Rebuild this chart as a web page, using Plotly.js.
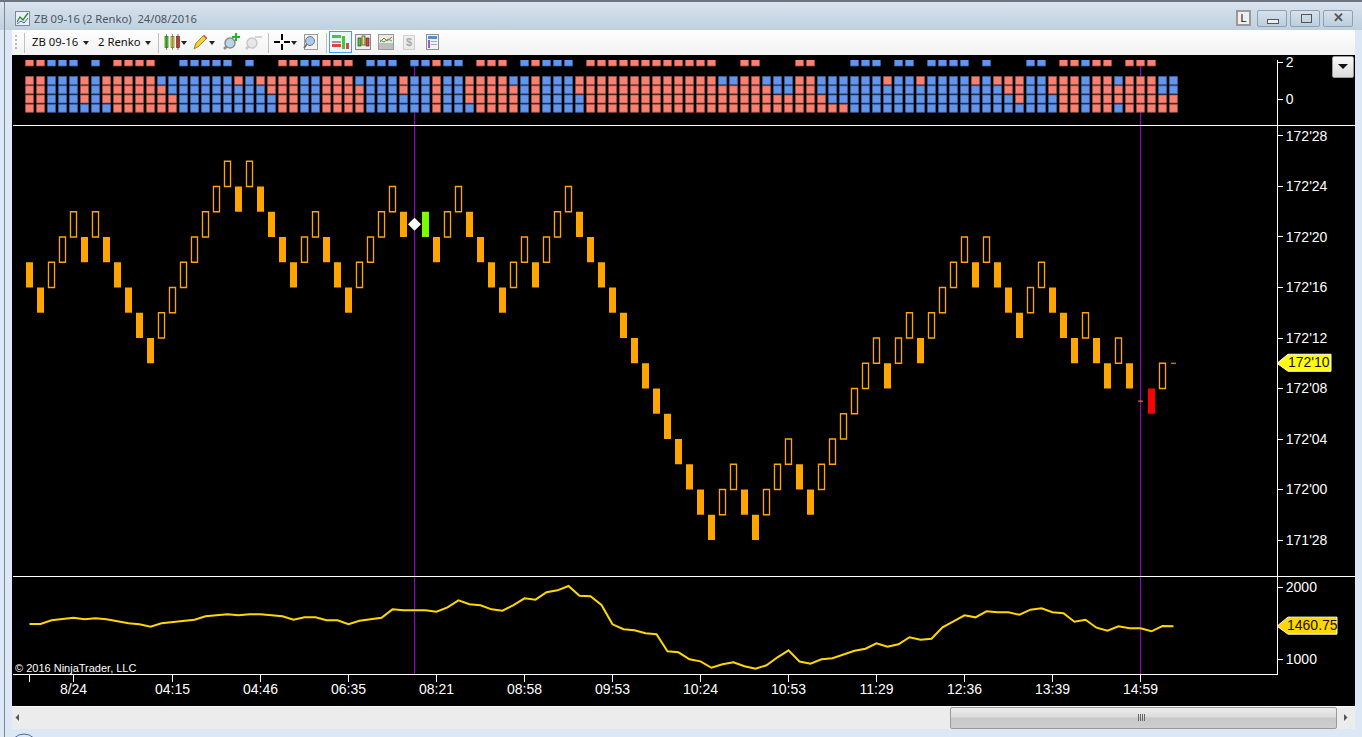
<!DOCTYPE html>
<html>
<head>
<meta charset="utf-8">
<script src="https://cdn.plot.ly/plotly-3.0.1.min.js"></script>
<style>
html,body{margin:0;padding:0;width:1362px;height:737px;overflow:hidden;background:#dce8f5;font-family:"Liberation Sans",Arial,sans-serif}
.abs{position:absolute}
#title{left:0;top:0;width:1362px;height:30px;background:linear-gradient(#d9e4ee,#bed0df);border-top:2px solid #6d7480;box-sizing:border-box}
#frameL{left:4px;top:2px;width:1px;height:735px;background:#7d8792}
#toolbar{left:12px;top:30px;width:1343px;height:25px;background:linear-gradient(#fff,#f1f1f1)}
#black{left:12px;top:55px;width:1343px;height:651px;background:#000}
#scroll{left:12px;top:706px;width:1343px;height:23px;background:#ececec;border-top:1px solid #fafafa;box-sizing:border-box}
#thumb{left:950px;top:707px;width:387px;height:22px;box-sizing:border-box;border:1px solid #9a9a9a;border-radius:2px;background:linear-gradient(#ececec 0,#dcdcdc 45%,#c8c8c8 50%,#cdcdcd 100%)}
#chart{left:0;top:0;width:1362px;height:737px}
.wbtn{top:10px;height:17px;box-sizing:border-box;border:1px solid #8fa0b2;border-radius:2px;background:linear-gradient(#d6e1eb,#bccede)}
.tb{font-size:11.3px;color:#111;top:35px;line-height:14px;white-space:nowrap;font-family:"Noto Sans",sans-serif}
.tri{width:0;height:0;border-left:3.5px solid transparent;border-right:3.5px solid transparent;border-top:4px solid #222;top:41px}
.sep{width:1px;height:20px;top:33px;background:#bfbfbf}
</style>
</head>
<body>
<div class="abs" id="title"></div>
<div class="abs" id="frameL"></div>
<div class="abs" id="toolbar"></div>
<div class="abs" id="black"></div>
<div class="abs" id="scroll"></div>
<div class="abs" id="thumb"></div>
<svg class="abs" style="left:0;top:0" width="1362" height="737">
  <g>
    <rect x="15.5" y="11.5" width="14" height="14" fill="#e9eff5" stroke="#7f8a96"/>
    <polyline points="17,22 20,17 23,20 28,13" fill="none" stroke="#2c8a2c" stroke-width="1.3"/>
    <polyline points="17,24 21,21 24,23 28,18" fill="none" stroke="#3a62c0" stroke-width="1"/>
  </g>
  <!-- grip -->
  <g fill="#b9b9b9"><rect x="15" y="35" width="2" height="2"/><rect x="15" y="39" width="2" height="2"/><rect x="15" y="43" width="2" height="2"/><rect x="15" y="47" width="2" height="2"/></g>
  <!-- candles icon -->
  <g>
    <rect x="165" y="36.500" width="3" height="11" fill="#63d13a" stroke="#2b6b22" stroke-width=".7"/><line x1="166.500" y1="34" x2="166.500" y2="50" stroke="#2b6b22" stroke-width=".7"/>
    <rect x="171" y="36.500" width="3" height="11" fill="#e8e05a" stroke="#6b6b22" stroke-width=".7"/><line x1="172.500" y1="34" x2="172.500" y2="50" stroke="#6b6b22" stroke-width=".7"/>
    <rect x="176.500" y="36.500" width="3" height="11" fill="#e04a3a" stroke="#6b2b22" stroke-width=".7"/><line x1="178" y1="34" x2="178" y2="50" stroke="#6b2b22" stroke-width=".7"/>
  </g>
  <!-- pencil -->
  <polygon points="194,49 196,43 204,35 207,38 199,46" fill="#f2d23a" stroke="#a58a1e"/>
  <polygon points="204,35 207,38 206,39 203,36" fill="#e35a4a"/>
  <!-- zoom in -->
  <g>
    <line x1="224" y1="49" x2="229" y2="44" stroke="#8a8a8a" stroke-width="2.500"/>
    <circle cx="230" cy="43" r="5" fill="#bcd4ea" stroke="#8a8a8a" stroke-width="1.500"/>
    <path d="M232 36h3v-3h2v3h3v2h-3v3h-2v-3h-3z" fill="#1fb81f"/>
  </g>
  <!-- zoom out -->
  <g opacity="0.6">
    <line x1="246" y1="49" x2="251" y2="44" stroke="#aaa" stroke-width="2.500"/>
    <circle cx="252" cy="43" r="5" fill="#ddd" stroke="#aaa" stroke-width="1.500"/>
    <rect x="255" y="36" width="7" height="2" fill="#bbb"/>
  </g>
  <!-- crosshair -->
  <g fill="#000"><rect x="274" y="41" width="6" height="2"/><rect x="284" y="41" width="6" height="2"/><rect x="281" y="34" width="2" height="6"/><rect x="281" y="44" width="2" height="6"/></g>
  <!-- magnifier box -->
  <g><rect x="304.500" y="34.500" width="13" height="15" fill="#f3f3f3" stroke="#9a9a9a"/><circle cx="310" cy="41" r="4.500" fill="#a9c9ea" stroke="#7a7a7a"/><line x1="307" y1="44" x2="304" y2="48" stroke="#777" stroke-width="2"/></g>
  <!-- active button -->
  <g>
    <rect x="329.500" y="31.500" width="22" height="21" fill="#eef6fd" stroke="#4a9bdd"/>
    <rect x="332" y="35" width="9" height="3" fill="#4ec23c"/><rect x="342" y="36" width="3" height="13" fill="#4ec23c"/>
    <rect x="332" y="41" width="9" height="2" fill="#999"/>
    <rect x="332" y="44" width="9" height="3" fill="#e0473a"/><rect x="346" y="43" width="3" height="6" fill="#e0473a"/>
  </g>
  <!-- candles box -->
  <g>
    <rect x="355.500" y="34.500" width="15" height="15" fill="#ededed" stroke="#8a8a8a"/>
    <rect x="358" y="38" width="3" height="8" fill="#52c73d" stroke="#222" stroke-width=".6"/>
    <rect x="362" y="36" width="3" height="9" fill="#e8e05a" stroke="#222" stroke-width=".6"/>
    <rect x="366" y="38" width="3" height="8" fill="#e0473a" stroke="#222" stroke-width=".6"/>
  </g>
  <!-- line chart box -->
  <g>
    <rect x="378.500" y="34.500" width="15" height="15" fill="#e4ece4" stroke="#9a9a9a"/>
    <rect x="379" y="43" width="14" height="6" fill="#bdbdbd"/>
    <polyline points="380,42 384,38 387,41 392,37" fill="none" stroke="#d9534a"/>
    <polyline points="380,40 384,42 388,39 392,41" fill="none" stroke="#4cae4c"/>
  </g>
  <!-- dollar doc -->
  <g opacity="0.6"><rect x="403.500" y="35.500" width="11" height="14" fill="#e6e6e6" stroke="#b5b5b5"/></g>
  <!-- table -->
  <g>
    <rect x="426.500" y="34.500" width="12" height="15" fill="#f0f0f6" stroke="#8f8f8f"/>
    <rect x="428" y="36" width="9" height="3" fill="#4a90d9"/><rect x="428" y="40" width="2" height="8" fill="#8a5fd0"/>
    <rect x="431" y="41" width="6" height="1" fill="#aaa"/><rect x="431" y="44" width="6" height="1" fill="#aaa"/>
  </g>
  <!-- scrollbar arrows and grip -->
  <polygon points="19,714 19,721 15.500,717.500" fill="#555"/>
  <polygon points="1344,714 1344,721 1347.500,717.500" fill="#555"/>
  <g fill="#666"><rect x="1138" y="714" width="1" height="7"/><rect x="1140" y="714" width="1" height="7"/><rect x="1142" y="714" width="1" height="7"/><rect x="1144" y="714" width="1" height="7"/></g>
  <circle cx="24" cy="748" r="14" fill="#dce8f5" stroke="#4a6a96"/>
</svg>
<div class="abs" style="left:34px;top:11px;font:11.2px 'Noto Sans',sans-serif;line-height:15px;color:#4a5660;white-space:pre">ZB 09-16 (2 Renko)  24/08/2016</div>
<div class="abs tb" style="left:32px">ZB 09-16</div>
<div class="abs tri" style="left:83px"></div>
<div class="abs tb" style="left:98px">2 Renko</div>
<div class="abs tri" style="left:145px"></div>
<div class="abs sep" style="left:24px"></div>
<div class="abs sep" style="left:158px"></div>
<div class="abs tri" style="left:181px"></div>
<div class="abs tri" style="left:209px"></div>
<div class="abs sep" style="left:268px"></div>
<div class="abs tri" style="left:291px"></div>
<div class="abs sep" style="left:326px"></div>
<div class="abs" style="left:406px;top:36px;font:bold 11px 'Liberation Sans';color:#aaa">$</div>

<div class="abs" id="chart"></div>

<!-- window buttons -->
<div class="abs" style="left:1236px;top:10px;width:15px;height:16px;box-sizing:border-box;border:2px solid #999;background:#efefef;font:11px 'Liberation Sans';text-align:center;line-height:12px;color:#111">L</div>
<div class="abs wbtn" style="left:1257px;width:30px"><div class="abs" style="left:9px;top:8px;width:10px;height:3px;border:1px solid #555;background:#eee"></div></div>
<div class="abs wbtn" style="left:1290px;width:30px"><div class="abs" style="left:10px;top:3px;width:9px;height:7px;border:1.5px solid #555"></div></div>
<div class="abs wbtn" style="left:1323px;width:30px;text-align:center;font:bold 13px 'Liberation Sans';line-height:14px;color:#555">✕</div>
<div class="abs" style="left:1332px;top:56px;width:22px;height:22px;box-sizing:border-box;border:1px solid #9a9a9a;border-radius:2px;background:linear-gradient(#f8f8f8,#dcdcdc)"><div class="abs" style="left:5px;top:7px;width:0;height:0;border-left:5px solid transparent;border-right:5px solid transparent;border-top:5px solid #111"></div></div>

<script>
// Chart data: bar index runs 0..104
const xTickVals  = [0, 4, 13, 21, 29, 37, 45, 53, 61, 69, 77, 85, 93, 101];
const xTickText  = ["", "8/24", "04:15", "04:46", "06:35", "08:21", "08:58", "09:53", "10:24", "10:53", "11:29", "12:36", "13:39", "14:59"];
const priceTickVals = [28, 24, 20, 16, 12, 8, 4, 0, -4];
const priceTickText = ["172'28", "172'24", "172'20", "172'16", "172'12", "172'08", "172'04", "172'00", "171'28"];

// Renko box lower edge, in 32nds above 172'00
const boxLow = [16,14,16,18,20,18,20,18,16,14,12,10,12,14,16,18,20,22,24,22,24,22,20,18,16,18,20,18,16,14,16,18,20,22,20,null,20,18,20,22,20,18,16,14,16,18,16,18,20,22,20,18,16,14,12,10,8,6,4,2,0,-2,-4,-2,0,-2,-4,-2,0,2,0,-2,0,2,4,6,8,10,8,10,12,10,12,14,16,18,16,18,16,14,12,14,16,14,12,10,12,10,8,10,8,null,6,8,null];
// D filled down, U hollow up, L lime, X red
const boxKind = ["D","D","U","U","U","D","U","D","D","D","D","D","U","U","U","U","U","U","U","D","U","D","D","D","D","U","U","D","D","D","U","U","U","U","D","-","L","D","U","U","D","D","D","D","U","U","D","U","U","U","D","D","D","D","D","D","D","D","D","D","D","D","D","U","U","D","D","U","U","U","D","D","U","U","U","U","U","U","D","U","U","D","U","U","U","U","D","U","D","D","D","U","U","D","D","D","U","D","D","U","D","-","X","U","-"];
const boxHeight = 2;
const dashIdx = [101, 104];
const dashVal = [7, 10];
const diamondIdx = [35];
const diamondVal = [21];
const lastPrice = 10;
const lastPriceText = "172'10";
const markerLines = [35, 101];

// Signal matrix rows, one letter per bar (R salmon, B blue, . none)
const signalLevels = [2, 1, 0.5, 0, -0.5];
const signalTop  = "RRBBB.B.RRRR..BBBBB.B..RRBBRRR.BBB.BBRBB.RRR.BRBBB.RRRRRRRRRRRR..RR...RR...BBB.BB.BBBB.B...BB.RRBRR.RRR..";
const signalOne  = "RRBBBRBRRRRRBBBBBBBRBRRRRBBRRRBBBBRBBRBBRRRRBBRBBBRRRRRRRRRRRRRBBRRBBBRRBBBBBBRBBRBBBBRBRRRBBRRRBRRBRRRBB";
const signalHalf = "RRBBBRBRRRRRRBBBBBBBBBRRRBBRRRRBBBRBBRBBRRRRRBRBBBRRRRRRRRRRRRRRRRRRBBRRBBBBBBBBBBBBBBBBBRRBBRRRBRRRRRRBB";
const signalZero = "RRBBBRBRRRRRRRBBBBBBBBBRRBBRRRRBBBBBBRBBRRRRRBRBBBBRRRRRRRRRRRRRRRRRRRRRRBBBBBBBBBBBBBBBBBRBBBRRBRRRRRRRR";
const signalLow  = "RRBBBBBBRRRRRRBBBBBBBBBRRBBRRRRBBBBBBRBBBRRRRBRBBBBRRRRRRRRRRRRRRRRRRRRRRRRBBBBBBBBBBBBBBBBBBBRRBRRBRRRRR";

// Lower panel line
const volumeLine = [1490,1490,1542,1556,1578,1556,1569,1556,1528,1500,1486,1453,1500,1514,1536,1550,1597,1611,1625,1611,1627,1627,1615,1597,1550,1583,1583,1542,1542,1486,1536,1553,1578,1694,1681,1681,1681,1661,1722,1819,1764,1750,1694,1675,1754,1847,1828,1931,1958,2018,1883,1875,1754,1486,1417,1403,1361,1347,1111,1097,1000,972,883,931,958,903,869,917,1028,1125,969,939,1000,1014,1064,1119,1147,1222,1175,1208,1306,1272,1286,1444,1528,1611,1583,1667,1653,1653,1619,1689,1708,1653,1639,1522,1550,1439,1397,1458,1431,1431,1389,1461,1460.75];
const lastVolume = 1460.75;
const lastVolumeText = "1460.75";
const volumeTickVals = [1000, 2000];
const signalTickVals = [0, 2];

const ORANGE = "#FFA500", SALMON = "#FA8072", BLUE = "#6495ED", GOLD = "#FFD700", PURPLE = "#9400D3";
const W = 1362, H = 737, mL = 13, mR = 85, mT = 60, mB = 63;
const plotH = H - mT - mB, plotW = W - mL - mR;
const py = px => (H - mB - px) / plotH;
const tickFont = {family: '"Liberation Sans", Arial, sans-serif', size: 14, color: "#fff"};

const idx = boxLow.map((_, i) => i);
const valid = idx.filter(i => boxLow[i] !== null);
const fillOf = {D: ORANGE, U: "rgba(0,0,0,0)", L: "#7CFC00", X: "#FF0000"};

const traces = [];
// signal squares
[signalTop, signalOne, signalHalf, signalZero, signalLow].forEach((row, r) => {
  [["R", SALMON, "#9a5148"], ["B", BLUE, "#3f619e"]].forEach(([k, col, edge]) => {
    const xs = [];
    row.split("").forEach((c, i) => { if (c === k) xs.push(i); });
    traces.push({type: "scatter", mode: "markers", xaxis: "x", yaxis: "y", x: xs, y: xs.map(() => signalLevels[r]),
      marker: {symbol: "square", size: 8, color: col, line: {color: edge, width: 0.8}}, hoverinfo: "skip"});
  });
});
// renko boxes
traces.push({type: "bar", xaxis: "x", yaxis: "y2", x: valid,
  base: valid.map(i => boxLow[i]), y: valid.map(() => boxHeight),
  width: valid.map(i => boxKind[i] === "U" ? 0.55 : 0.636),
  marker: {color: valid.map(i => fillOf[boxKind[i]]),
    line: {color: valid.map(i => boxKind[i] === "U" ? ORANGE : "rgba(0,0,0,0)"), width: valid.map(i => boxKind[i] === "U" ? 1.3 : 0)}},
  hoverinfo: "skip"});
traces.push({type: "scatter", mode: "markers", xaxis: "x", yaxis: "y2", x: dashIdx, y: dashVal,
  marker: {symbol: "line-ew", size: 3.5, line: {color: ORANGE, width: 1}}, hoverinfo: "skip"});
traces.push({type: "scatter", mode: "markers", xaxis: "x", yaxis: "y2", x: diamondIdx, y: diamondVal,
  marker: {symbol: "diamond", size: 10, color: "#fff"}, hoverinfo: "skip"});
// line
traces.push({type: "scatter", mode: "lines", xaxis: "x", yaxis: "y3", x: idx, y: volumeLine,
  line: {color: GOLD, width: 2}, hoverinfo: "skip"});

const yCommon = {anchor: "x", side: "right", showgrid: false, zeroline: false, showline: true, linecolor: "#fff", linewidth: 1,
  ticks: "outside", ticklen: 5, tickcolor: "#fff", tickwidth: 1, tickfont: tickFont};

const tag = (yref, yval, right, fill) => ({type: "path", xref: "paper", xsizemode: "pixel", xanchor: 1, yref, ysizemode: "pixel", yanchor: yval,
  path: `M0,0 L11,-8 L${right},-8 L${right},9 L11,9 Z`, fillcolor: fill, line: {color: "#fff", width: 1}, layer: "above"});
const tagText = (yref, yval, text, shift) => ({xref: "paper", x: 1, xanchor: "left", xshift: shift, yref, y: yval, yanchor: "middle", yshift: 1, text, showarrow: false,
  font: {family: tickFont.family, size: 14, color: "#111"}, borderpad: 0});

const layout = {
  width: W, height: H, margin: {l: mL, r: mR, t: mT, b: mB, pad: 0},
  paper_bgcolor: "rgba(0,0,0,0)", plot_bgcolor: "#000", showlegend: false, barmode: "overlay", bargap: 0,
  xaxis: {anchor: "y3", domain: [0, 1], range: [-1.5, 113.41], showgrid: false, zeroline: false, showline: true, linecolor: "#fff", linewidth: 1,
    tickmode: "array", tickvals: xTickVals, ticktext: xTickText, ticks: "outside", ticklen: 7, tickcolor: "#fff", tickwidth: 1, tickangle: 0, tickfont: tickFont, ticklabelstandoff: -5},
  yaxis: Object.assign({}, yCommon, {domain: [py(125.5), py(60)], range: [-1.432, 2.108], tickmode: "array", tickvals: signalTickVals, ticktext: signalTickVals.map(String)}),
  yaxis2: Object.assign({}, yCommon, {domain: [py(576.5), py(125.5)], range: [-6.89, 28.83], tickmode: "array", tickvals: priceTickVals, ticktext: priceTickText}),
  yaxis3: Object.assign({}, yCommon, {domain: [0, py(576.5)], range: [796, 2150], tickmode: "array", tickvals: volumeTickVals, ticktext: volumeTickVals.map(String)}),
  shapes: [
    ...markerLines.map(m => ({type: "line", xref: "x", yref: "paper", x0: m, x1: m, y0: 0, y1: 1, layer: "below", line: {color: PURPLE, width: 1}})),
    {type: "line", xref: "paper", yref: "paper", x0: 0, x1: (1355 - mL) / plotW, y0: py(125.5), y1: py(125.5), line: {color: "#fff", width: 1}},
    {type: "line", xref: "paper", yref: "paper", x0: 0, x1: (1355 - mL) / plotW, y0: py(576.5), y1: py(576.5), line: {color: "#fff", width: 1}},
    tag("y2", lastPrice, 54, "#FFFF00"),
    tag("y3", lastVolume, 60, GOLD)
  ],
  annotations: [
    tagText("y2", lastPrice, lastPriceText, 10),
    tagText("y3", lastVolume, lastVolumeText, 9),
    {xref: "paper", x: 0, xshift: 0, xanchor: "left", yref: "paper", y: py(668), yanchor: "middle", text: "© 2016 NinjaTrader, LLC", showarrow: false,
      font: {family: tickFont.family, size: 11, color: "#fff"}}
  ]
};
Plotly.newPlot("chart", traces, layout, {displayModeBar: false, staticPlot: true});
</script>
</body>
</html>
